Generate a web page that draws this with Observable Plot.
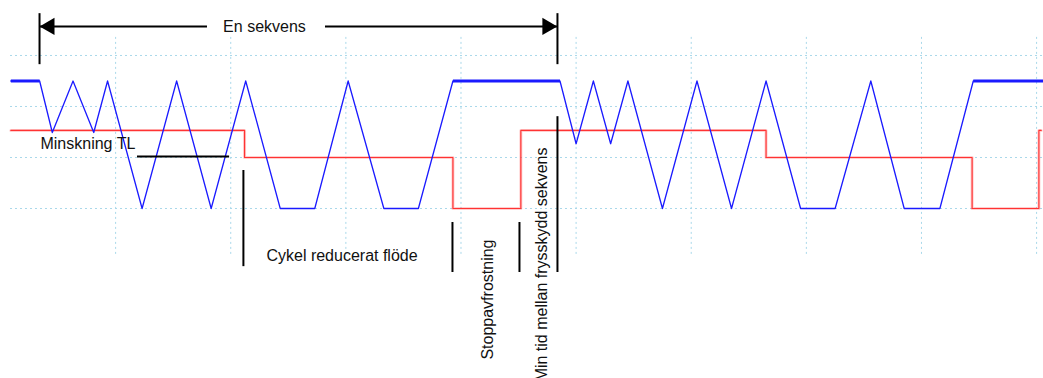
<!DOCTYPE html>
<html>
<head>
<meta charset="utf-8">
<script src="https://cdn.jsdelivr.net/npm/d3@7"></script>
<script src="https://cdn.jsdelivr.net/npm/@observablehq/plot@0.6"></script>
<style>
  html, body { margin: 0; padding: 0; background: #fff; }
</style>
</head>
<body>
<div id="chart"></div>
<script>
// ---- data (time units: 10 per grid division; level units: 10 per grid division) ----
const blueT = [0.9, 3.4, 4.5, 6.3, 8.1, 9.3, 12.3, 15.3, 18.3, 21.3, 24.3, 27.3, 30.2, 33.3, 36.3, 39.3, 48.6, 50.0, 51.5, 53.0, 54.5, 57.5, 60.5, 63.5, 66.5, 69.5, 72.5, 75.6, 78.5, 81.6, 84.5, 90.6];
const blueY = [25, 25, 14.9, 25, 14.9, 25, 0, 25, 0, 25, 0, 0, 25, 0, 0, 25, 25, 12.7, 25, 12.7, 25, 0, 25, 0, 25, 0, 0, 25, 0, 0, 25, 25];

const redT = [0.9, 21.2, 39.3, 45.2, 66.5, 84.4, 90.2, 90.4];
const redY = [15.3, 10, 0, 15.3, 10, 0, 15.3, 15.3];

const gridX = [10, 20, 30, 40, 50, 60, 70, 80, 90];
const gridY = [0, 10, 20, 30];

// annotation bars (vertical)
const vBarX  = [3.39, 48.38, 21.1, 39.26, 45.08, 48.38];
const vBarY1 = [38.2, 38.2, 7.45, -2.75, -2.75, 18.0];
const vBarY2 = [28.2, 28.2, -11.4, -12.55, -12.55, -12.55];

// annotation bars (horizontal)
const hBarX1 = [3.39, 28.23, 11.9];
const hBarX2 = [17.98, 48.38, 19.9];
const hBarY  = [35.7, 35.7, 10.2];

// arrowheads
const headT = [4.26, 47.5];
const headY = [35.7, 35.7];
const headRot = [-90, 90];

// labels
const labelText = ["En sekvens", "Minskning TL", "Cykel reducerat flöde", "Stoppavfrostning", "Min tid mellan frysskydd sekvens"];
const labelT = [22.93, 3.47, 23.1, 42.3, 47.0];
const labelY = [35.7, 12.75, -9.2, -6.08, 11.96];
const labelAnchor = ["middle", "start", "start", "end", "end"];
const labelRot = [0, 0, 0, -90, -90];

// ---- tables ----
const blue = blueT.map((t, i) => ({t, v: blueY[i]}));
const red = redT.map((t, i) => ({t, v: redY[i]}));
// flat top segments of the blue signal (drawn heavier, as in the recorder trace)
const blueTop = blue.slice(1).map((d, i) => ({t1: blue[i].t, t2: d.t, v1: blue[i].v, v2: d.v}))
  .filter(s => s.v1 === 25 && s.v2 === 25);
const vBars = vBarX.map((x, i) => ({x, y1: vBarY1[i], y2: vBarY2[i]}));
const hBars = hBarX1.map((x1, i) => ({x1, x2: hBarX2[i], y: hBarY[i]}));
const heads = headT.map((t, i) => ({t, v: headY[i], r: headRot[i]}));
const labels = labelText.map((s, i) => ({s, t: labelT[i], v: labelY[i], a: labelAnchor[i], r: labelRot[i]}));

const font = "'Liberation Sans', Arial, Helvetica, sans-serif";
const gridColor = "#a9d8ea";

const textMark = (anchor) => Plot.text(labels.filter(d => d.a === anchor), {
  x: "t", y: "v", text: "s", textAnchor: anchor, rotate: "r",
  fontSize: 16, fontFamily: font, fill: "#111", lineAnchor: "middle"
});

const chart = Plot.plot({
  width: 1043,
  height: 378,
  marginTop: 0, marginBottom: 0, marginLeft: 0, marginRight: 0,
  x: {domain: [0, 90.6], axis: null},
  y: {domain: [-33.33, 40.78], axis: null},
  style: {background: "#fff", fontFamily: font},
  marks: [
    Plot.ruleY(gridY, {x1: 0.87, x2: 90.6, stroke: gridColor, strokeWidth: 1, strokeDasharray: "2,3"}),
    Plot.ruleX(gridX, {y1: -9.0, y2: 33.7, stroke: gridColor, strokeWidth: 1, strokeDasharray: "2,3"}),
    // red signal (fuzz + core)
    Plot.line(red, {x: "t", y: "v", curve: "step-after", stroke: "#ff2020", strokeWidth: 3, strokeOpacity: 0.22}),
    Plot.line(red, {x: "t", y: "v", curve: "step-after", stroke: "#ff3333", strokeWidth: 1.2}),
    // blue signal
    Plot.line(blue, {x: "t", y: "v", stroke: "#1a1aff", strokeWidth: 1.3}),
    Plot.link(blueTop, {x1: "t1", x2: "t2", y1: "v1", y2: "v2", stroke: "#1a1aff", strokeWidth: 3}),
    // annotations
    Plot.ruleX(vBars, {x: "x", y1: "y1", y2: "y2", stroke: "#000", strokeWidth: 2}),
    Plot.ruleY(hBars, {y: "y", x1: "x1", x2: "x2", stroke: "#000", strokeWidth: 2}),
    Plot.dot(heads, {x: "t", y: "v", rotate: "r", symbol: "triangle", r: 6.4, fill: "#000", stroke: null}),
    textMark("middle"),
    textMark("start"),
    textMark("end")
  ]
});
document.getElementById("chart").appendChild(chart);
</script>
</body>
</html>
